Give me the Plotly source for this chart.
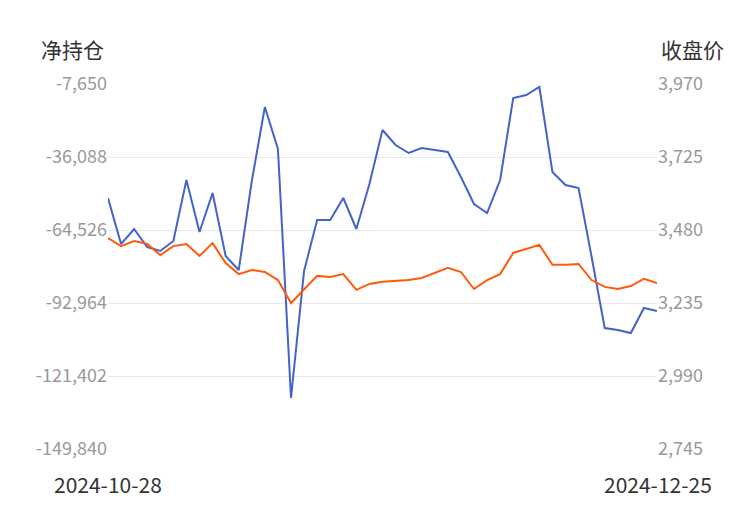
import plotly.graph_objs as go
import pandas as pd

dates = [d.strftime('%Y-%m-%d') for d in pd.bdate_range('2024-10-28', '2024-12-25')]

net_position = [-52060, -69990, -64140, -71160, -72710, -68820, -45050, -65310, -50120, -74660,
                -80120, -45440, -16610, -32970, -129980, -80500, -60640, -60640, -52060, -64140,
                -46610, -25570, -31420, -34530, -32580, -33360, -34140, -43880, -54400, -57910,
                -45050, -13100, -11940, -8820, -41940, -47000, -48170, -75050, -102710, -103490,
                -104660, -94920, -96090]

close_price = [3453, 3426, 3443, 3433, 3396, 3426, 3433, 3393, 3436, 3369,
               3332, 3346, 3339, 3312, 3235, 3282, 3326, 3322, 3332, 3279,
               3299, 3306, 3309, 3312, 3319, 3336, 3353, 3339, 3282, 3312,
               3332, 3403, 3416, 3430, 3363, 3363, 3366, 3312, 3289, 3282,
               3292, 3316, 3302]

left_ticks = [-7650, -36088, -64526, -92964, -121402, -149840]
right_ticks = [3970, 3725, 3480, 3235, 2990, 2745]

fig = go.Figure()

#Net position
fig.add_trace(go.Scatter(x=dates, y=net_position, mode='lines',
                         line={'color': "#4463c9", 'width': 2}, name="净持仓"))

#Close price
fig.add_trace(go.Scatter(x=dates, y=close_price, mode='lines', yaxis="y2",
                         line={'color': "#ff5a0a", 'width': 2}, name="收盘价"))

tick_font = {'family': "Noto Sans CJK SC", 'size': 18, 'color': "#999999"}
label_font = {'family': "Noto Sans CJK SC", 'size': 21, 'color': "#333333"}

fig.update_layout(
    width=750, height=510,
    plot_bgcolor="white", paper_bgcolor="white",
    showlegend=False,
    margin={'t': 76, 'l': 100, 'r': 101, 'b': 69},
    xaxis={'type': 'category', 'range': [0, len(dates) - 1], 'showticklabels': False,
           'showgrid': False, 'zeroline': False},
    yaxis={'range': [left_ticks[-1], left_ticks[0]], 'tickvals': left_ticks,
           'ticktext': [f"{v:,}" for v in left_ticks], 'tickfont': tick_font,
           'gridcolor': "#e6eaf0", 'zeroline': False, 'ticks': '', 'ticklen': 0,
           'automargin': False},
    yaxis2={'range': [right_ticks[-1], right_ticks[0]], 'tickvals': right_ticks,
            'ticktext': [f"{v:,}" for v in right_ticks], 'tickfont': tick_font,
            'overlaying': 'y', 'side': 'right', 'showgrid': False, 'zeroline': False,
            'automargin': False},
    annotations=[
        dict(text="净持仓", x=0, xref='paper', xanchor='right', xshift=-2, y=1, yref='paper',
             yanchor='bottom', yshift=18, showarrow=False, font=label_font),
        dict(text="收盘价", x=1, xref='paper', xanchor='left', xshift=2, y=1, yref='paper',
             yanchor='bottom', yshift=18, showarrow=False, font=label_font),
        dict(text=dates[0], x=0, xref='paper', xanchor='center', y=0, yref='paper',
             yanchor='top', yshift=-18, showarrow=False, font=label_font),
        dict(text=dates[-1], x=1, xref='paper', xanchor='right', xshift=57, y=0, yref='paper',
             yanchor='top', yshift=-18, showarrow=False, font=label_font),
    ],
)

fig.write_html("out.html")
